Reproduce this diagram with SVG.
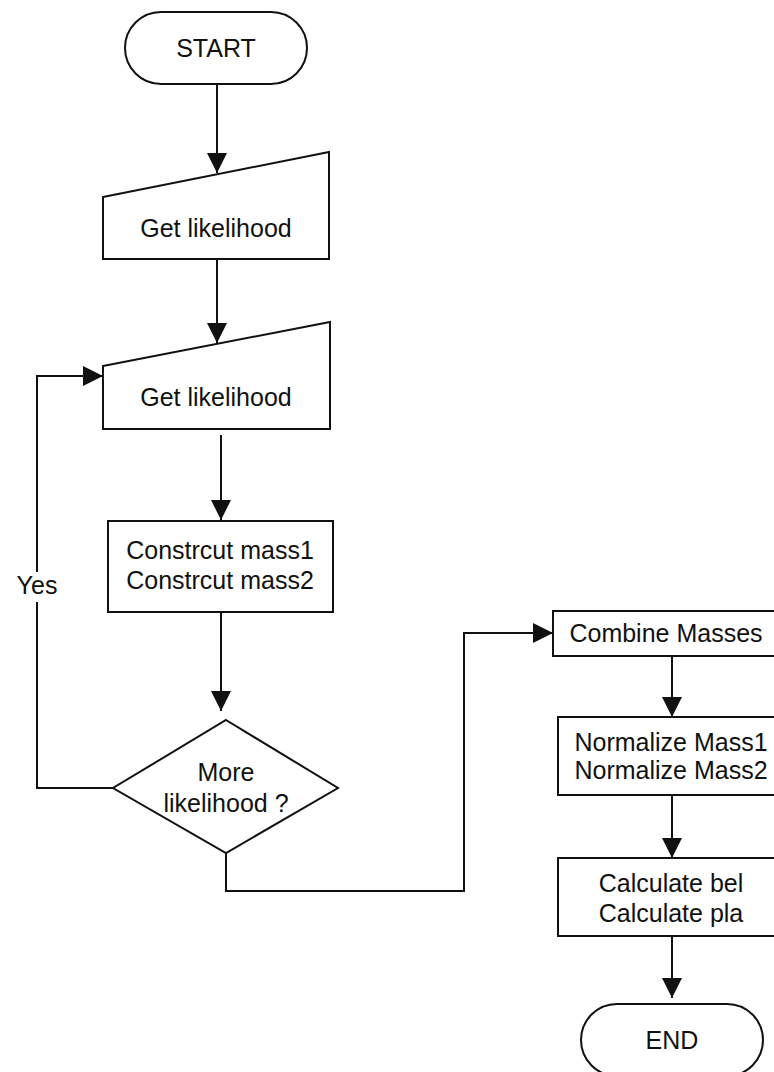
<svg xmlns="http://www.w3.org/2000/svg" width="774" height="1072" viewBox="0 0 774 1072">
  <style>
    .shape { fill: #ffffff; stroke: #111111; stroke-width: 2; }
    .wire { fill: none; stroke: #111111; stroke-width: 2; }
    .label { font-family: "Liberation Sans", Arial, sans-serif; font-size: 25px; fill: #111111; text-anchor: middle; }
  </style>
  <defs>
    <marker id="arrow" markerUnits="userSpaceOnUse" markerWidth="20" markerHeight="20" refX="20" refY="10" orient="auto">
      <path d="M0,0 L20,10 L0,20 z" fill="#111111"/>
    </marker>
  </defs>
  <rect width="774" height="1072" fill="#ffffff"/>

  <!-- connectors -->
  <g id="connectors">
    <path class="wire" d="M217,84 V173" marker-end="url(#arrow)"/>
    <path class="wire" d="M217,259 V343" marker-end="url(#arrow)"/>
    <path class="wire" d="M221,435 V520" marker-end="url(#arrow)"/>
    <path class="wire" d="M221,612 V711" marker-end="url(#arrow)"/>
    <path class="wire" d="M113,788 H37 V602"/>
    <path class="wire" d="M37,572 V376 H103" marker-end="url(#arrow)"/>
    <text class="label" x="37" y="594">Yes</text>
    <path class="wire" d="M226,853 V891 H464 V633 H553" marker-end="url(#arrow)"/>
    <path class="wire" d="M672,656 V717" marker-end="url(#arrow)"/>
    <path class="wire" d="M672,795 V858" marker-end="url(#arrow)"/>
    <path class="wire" d="M672,936 V998" marker-end="url(#arrow)"/>
  </g>

  <g id="start">
    <rect class="shape" x="125" y="12" width="182" height="72" rx="36" ry="36"/>
    <text class="label" x="216" y="57">START</text>
  </g>

  <g id="input1">
    <path class="shape" d="M103,197 L329,152 L329,259 L103,259 z"/>
    <text class="label" x="216" y="237">Get likelihood</text>
  </g>

  <g id="input2">
    <path class="shape" d="M103,366 L330,322 L330,429 L103,429 z"/>
    <text class="label" x="216" y="406">Get likelihood</text>
  </g>

  <g id="construct">
    <rect class="shape" x="108" y="521" width="225" height="91"/>
    <text class="label" x="220" y="559">Constrcut mass1</text>
    <text class="label" x="220" y="589">Constrcut mass2</text>
  </g>

  <g id="decision">
    <path class="shape" d="M226,720 L338,788 L226,853 L113,788 z"/>
    <text class="label" x="226" y="781">More</text>
    <text class="label" x="226" y="812">likelihood ?</text>
  </g>

  <g id="combine">
    <rect class="shape" x="553" y="611" width="230" height="45"/>
    <text class="label" x="666" y="642">Combine Masses</text>
  </g>

  <g id="normalize">
    <rect class="shape" x="558" y="717" width="230" height="78"/>
    <text class="label" x="671" y="751">Normalize Mass1</text>
    <text class="label" x="671" y="779">Normalize Mass2</text>
  </g>

  <g id="calculate">
    <rect class="shape" x="558" y="858" width="230" height="78"/>
    <text class="label" x="671" y="892">Calculate bel</text>
    <text class="label" x="671" y="922">Calculate pla</text>
  </g>

  <g id="end">
    <rect class="shape" x="581" y="1004" width="182" height="72" rx="36" ry="36"/>
    <text class="label" x="672" y="1049">END</text>
  </g>
</svg>
